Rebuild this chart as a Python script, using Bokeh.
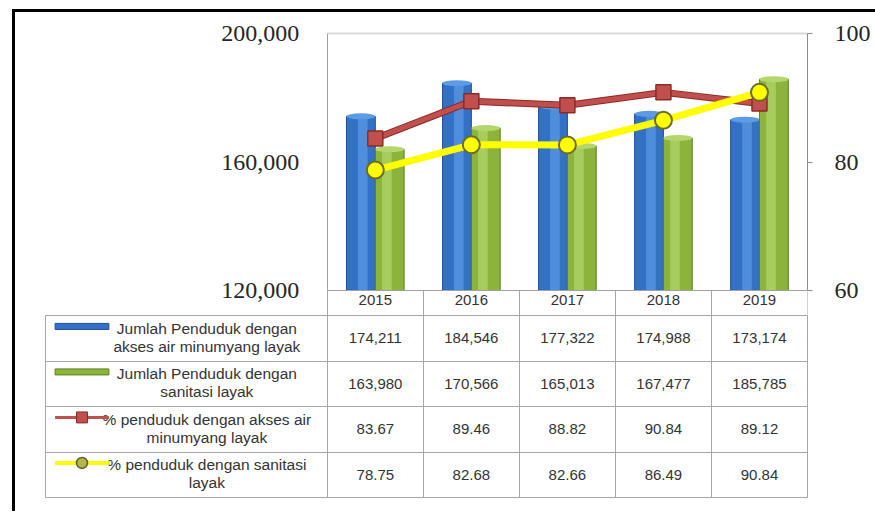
import numpy as np
from bokeh.plotting import figure
from bokeh.models import Range1d, LinearAxis, FixedTicker, NumeralTickFormatter, Grid, Div
from bokeh.layouts import column, row
from bokeh.embed import file_html
from bokeh.resources import INLINE
from bokeh.core.properties import value

# ---------------- data ----------------
years = ["2015", "2016", "2017", "2018", "2019"]
water_pop = [174211, 184546, 177322, 174988, 173174]
sanit_pop = [163980, 170566, 165013, 167477, 185785]
water_pct = [83.67, 89.46, 88.82, 90.84, 89.12]
sanit_pct = [78.75, 82.68, 82.66, 86.49, 90.84]
series_labels = [
    "Jumlah Penduduk dengan\nakses air minumyang layak",
    "Jumlah Penduduk dengan\nsanitasi layak",
    "% penduduk dengan akses air\nminumyang layak",
    "% penduduk dengan sanitasi\nlayak",
]
left_ticks = [120000, 160000, 200000]
right_ticks = [60, 80, 100]

# ---------------- style / layout ----------------
BLUE, BLUE_HI, BLUE_EDGE = "#3271c6", "#5d9be6", "#1f4f95"
GREEN, GREEN_HI, GREEN_EDGE = "#8cb43c", "#b4d66c", "#5f7f22"
RED, RED_EDGE = "#c0504d", "#8c2a28"
YEL, YEL_EDGE = "#ffff00", "#6b6b28"
GRID = "#a6a6a6"
SANS = "Liberation Sans"

n = len(years)
xc = np.arange(n) + 0.5
W = 858
ML, MR = 30, 60
PLOT_H = 257            # pixel height of the value area (120,000 .. 200,000)
PAD_T, PAD_B = 12, 25   # extra frame room above / below (labels, header row)
H1 = 9 + PAD_T + PLOT_H + PAD_B
H2 = 184
LEG = 284 / 96.8        # width of the legend column, in category units
xr = Range1d(-LEG, n)


def padded(lo, hi):
    per_px = (hi - lo) / PLOT_H
    return Range1d(lo - PAD_B * per_px, hi + PAD_T * per_px)


# ---------------- chart ----------------
p1 = figure(width=W, height=H1, x_range=xr, y_range=padded(left_ticks[0], left_ticks[-1]),
            output_backend="svg", toolbar_location=None,
            min_border_left=ML, min_border_right=MR, min_border_top=9, min_border_bottom=0)
p1.extra_y_ranges = {"pct": padded(right_ticks[0], right_ticks[-1])}
p1.xgrid.visible = False
p1.ygrid.visible = False
p1.outline_line_color = None
p1.background_fill_color = "white"
p1.border_fill_color = "white"

bw = 0.3
off = 0.15
base = left_ticks[0]
xb = xc - off
xg = xc + off
p1.vbar(x=xb, top=water_pop, bottom=base, width=bw, fill_color=BLUE, line_color=BLUE_EDGE, line_width=1)
p1.vbar(x=xb + 0.02, top=water_pop, bottom=base, width=0.1, fill_color=BLUE_HI, line_color=None, fill_alpha=0.7)
p1.ellipse(x=xb, y=water_pop, width=bw, height=6, height_units="screen", fill_color=BLUE_HI, line_color=None)
p1.vbar(x=xg, top=sanit_pop, bottom=base, width=bw, fill_color=GREEN, line_color=GREEN_EDGE, line_width=1)
p1.vbar(x=xg - 0.03, top=sanit_pop, bottom=base, width=0.1, fill_color=GREEN_HI, line_color=None, fill_alpha=0.7)
p1.ellipse(x=xg, y=sanit_pop, width=bw, height=6, height_units="screen", fill_color=GREEN_HI, line_color=None)

p1.line(xc, water_pct, y_range_name="pct", line_color=RED_EDGE, line_width=7)
p1.line(xc, water_pct, y_range_name="pct", line_color=RED, line_width=5)
p1.scatter(xc, water_pct, y_range_name="pct", marker="square", size=15, fill_color=RED, line_color=RED_EDGE, line_width=1.5)
p1.line(xc, sanit_pct, y_range_name="pct", line_color=YEL, line_width=7)
p1.scatter(xc, sanit_pct, y_range_name="pct", marker="circle", size=17, fill_color=YEL, line_color=YEL_EDGE, line_width=2)

# left axis, placed at the left edge of the data columns
ya = p1.left[0]
ya.fixed_location = 0
ya.bounds = (left_ticks[0], left_ticks[-1])
ya.ticker = FixedTicker(ticks=left_ticks)
ya.formatter = NumeralTickFormatter(format="0,0")
ya.major_label_text_font = "Liberation Serif"
ya.major_label_text_font_size = "24px"
ya.major_label_text_color = "#262626"
ya.axis_line_color = "#a0a0a0"
ya.major_tick_out = 0
ya.major_tick_in = 0
ya.minor_tick_line_color = None
ya.major_label_standoff = 28

# bottom axis = header row of the table
xa = p1.below[0]
xa.fixed_location = left_ticks[0]
xa.bounds = (0, n)
xa.ticker = FixedTicker(ticks=list(xc), minor_ticks=list(range(n + 1)))
xa.major_label_overrides = {float(x): y for x, y in zip(xc, years)}
xa.major_tick_out = 0
xa.major_tick_in = 0
xa.minor_tick_out = PAD_B
xa.minor_tick_in = 0
xa.minor_tick_line_color = GRID
xa.axis_line_color = "#a0a0a0"
xa.major_label_text_font = SANS
xa.major_label_text_font_size = "15px"
xa.major_label_text_color = "#333333"
xa.major_label_standoff = -21

# right axis
ra = LinearAxis(y_range_name="pct", ticker=FixedTicker(ticks=right_ticks),
                bounds=(right_ticks[0], right_ticks[-1]))
ra.major_label_text_font = "Liberation Serif"
ra.major_label_text_font_size = "24px"
ra.major_label_text_color = "#262626"
ra.axis_line_color = "#8c8c8c"
ra.major_tick_line_color = "#8c8c8c"
ra.major_tick_out = 5
ra.major_tick_in = 0
ra.minor_tick_line_color = None
ra.major_label_standoff = 22
p1.add_layout(ra, "right")

# top frame line of the plot area
ta = LinearAxis(ticker=FixedTicker(ticks=[]), fixed_location=left_ticks[-1], bounds=(0, n))
ta.axis_line_color = "#d9d9d9"
ta.axis_line_width = 2
ta.major_tick_line_color = None
ta.minor_tick_line_color = None
ta.major_label_text_font_size = "0px"
p1.add_layout(ta, "above")

# ---------------- table ----------------
p2 = figure(width=W, height=H2, x_range=xr, y_range=Range1d(4, 0),
            x_axis_type=None, y_axis_type=None,
            output_backend="svg", toolbar_location=None,
            min_border_left=ML, min_border_right=MR, min_border_top=0, min_border_bottom=2)
p2.outline_line_color = GRID
p2.add_layout(Grid(dimension=0, ticker=FixedTicker(ticks=list(range(n))), grid_line_color=GRID))
p2.add_layout(Grid(dimension=1, ticker=FixedTicker(ticks=[1, 2, 3]), grid_line_color=GRID))

rows = [water_pop, sanit_pop, water_pct, sanit_pct]
tx, ty, tt = [], [], []
for r, vals in enumerate(rows):
    for i, v in enumerate(vals):
        tx.append(xc[i])
        ty.append(r + 0.5)
        tt.append(f"{v:,}" if isinstance(v, int) else f"{v:.2f}")
p2.text(x=tx, y=ty, text=tt, text_align="center", text_baseline="middle",
        text_font=value(SANS), text_font_size="15px", text_color="#333333")

ridx = np.arange(len(series_labels))
p2.text(x=[-LEG + 1.68] * len(series_labels), y=ridx + 0.48, text=series_labels,
        text_align="center", text_baseline="middle", text_line_height=1.05,
        text_font=value(SANS), text_font_size="15.5px", text_color="#333333")

sx = -LEG + 0.38
sw = 0.56
sy = ridx + 0.24
p2.rect(x=[sx], y=[sy[0]], width=sw, height=6, height_units="screen",
        fill_color=BLUE, line_color=BLUE_EDGE)
p2.rect(x=[sx], y=[sy[1]], width=sw, height=6, height_units="screen",
        fill_color=GREEN, line_color=GREEN_EDGE)
p2.line([sx - sw / 2, sx + sw / 2], [sy[2], sy[2]], line_color=RED, line_width=3)
p2.scatter([sx], [sy[2]], marker="square", size=11, fill_color=RED, line_color=RED_EDGE)
p2.line([sx - sw / 2, sx + sw / 2], [sy[3], sy[3]], line_color=YEL, line_width=4)
p2.scatter([sx], [sy[3]], marker="circle", size=11, fill_color="#b5b54a", line_color="#5a5a2a", line_width=1.5)

# black frame lines (top and left) of the picture
top_bar = Div(text="", width=W + 5, height=3, margin=0, styles={"background-color": "black"})
left_bar = Div(text="", width=3, height=H1 + H2 + 12, margin=0, styles={"background-color": "black"})
layout = column(top_bar, row(left_bar, column(p1, p2, spacing=0), spacing=0),
                spacing=0, margin=(9, 0, 0, 12))

open("out.html", "w").write(file_html(layout, INLINE))
